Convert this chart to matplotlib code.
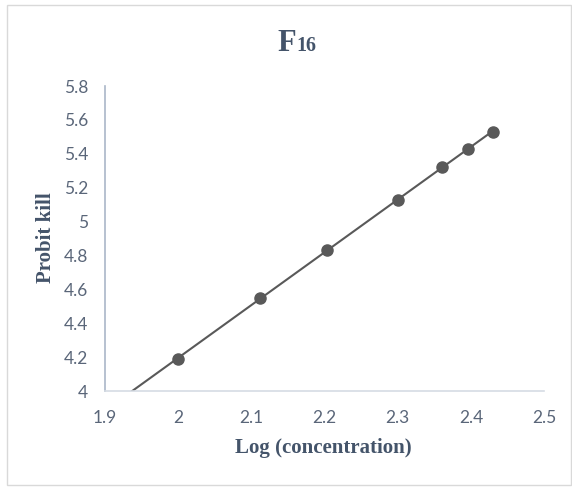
import numpy as np
import matplotlib.pyplot as plt
from matplotlib.patches import Rectangle

# data
log_conc = [2.000, 2.112, 2.203, 2.300, 2.361, 2.396, 2.430]
probit_kill = [4.19, 4.55, 4.83, 5.13, 5.32, 5.43, 5.53]
x_ticks = [1.9, 2.0, 2.1, 2.2, 2.3, 2.4, 2.5]
x_tick_labels = ['1.9', '2', '2.1', '2.2', '2.3', '2.4', '2.5']
y_ticks = [4.0, 4.2, 4.4, 4.6, 4.8, 5.0, 5.2, 5.4, 5.6, 5.8]
y_tick_labels = ['4', '4.2', '4.4', '4.6', '4.8', '5', '5.2', '5.4', '5.6', '5.8']

text_col = '#44546a'
tick_col = '#5a6679'
mark_col = '#595959'

fig = plt.figure(figsize=(5.72, 4.87), dpi=100)
ax = fig.add_axes([0.1836, 0.1971, 0.7675, 0.6263])

# linear trendline, extended back to the axis start
slope, icpt = np.polyfit(log_conc, probit_kill, 1)
xl = np.array([x_ticks[0], log_conc[-1]])
ax.plot(xl, slope * xl + icpt, color=mark_col, lw=1.5, zorder=2)
ax.plot(log_conc, probit_kill, 'o', color=mark_col, ms=8, zorder=3)

ax.set_xlim(x_ticks[0], x_ticks[-1])
ax.set_ylim(y_ticks[0], y_ticks[-1])
ax.set_xticks(x_ticks)
ax.set_xticklabels(x_tick_labels)
ax.set_yticks(y_ticks)
ax.set_yticklabels(y_tick_labels)
ax.tick_params(length=0, labelsize=12.5, labelcolor=tick_col)
ax.tick_params(axis='x', pad=14)
ax.tick_params(axis='y', pad=12)
for lab in ax.get_xticklabels() + ax.get_yticklabels():
    lab.set_fontfamily('Lato')

for s in ['top', 'right']:
    ax.spines[s].set_visible(False)
ax.spines['left'].set_color('#aab6c8')
ax.spines['left'].set_linewidth(1.2)
ax.spines['bottom'].set_color('#d6dce4')
ax.spines['bottom'].set_linewidth(1.2)

ax.set_xlabel('Log (concentration)', family='Liberation Serif', fontweight='bold',
              fontsize=15, color=text_col, va='center')
ax.xaxis.set_label_coords(0.4966, -0.187)
ax.set_ylabel('Probit kill', family='Liberation Serif', fontweight='bold',
              fontsize=15, color=text_col, va='center')
ax.yaxis.set_label_coords(-0.134, 0.502)

# title: big F followed by smaller 16
fig.text(0.5175, 0.8953, 'F', family='Liberation Serif', fontweight='bold',
         fontsize=22, color=text_col, ha='right', va='baseline')
fig.text(0.5175, 0.8953, '16', family='Liberation Serif', fontweight='bold',
         fontsize=14.5, color=text_col, ha='left', va='baseline')

# chart border
fig.patches.append(Rectangle((7 / 572, 2 / 487), 564 / 572, 480 / 487,
                             transform=fig.transFigure, fill=False,
                             edgecolor='#d9d9d9', lw=1))

fig.savefig('out.png', dpi=100)
